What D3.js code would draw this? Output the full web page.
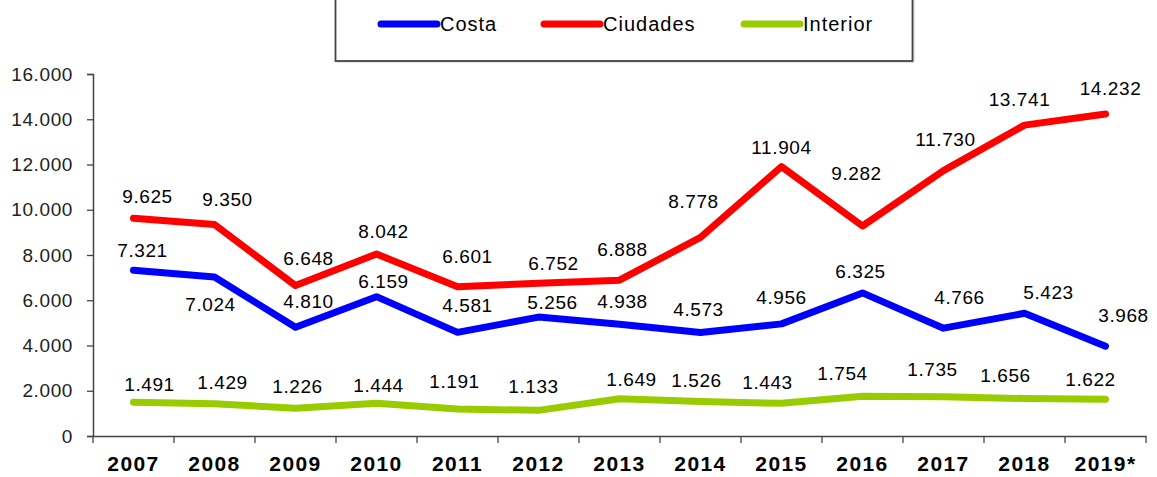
<!DOCTYPE html>
<html>
<head>
<meta charset="utf-8">
<script src="https://cdn.jsdelivr.net/npm/d3@7"></script>
<style>
  html, body { margin: 0; padding: 0; background: #fff; }
  svg { display: block; font-family: "Liberation Sans", Arial, sans-serif; }
</style>
</head>
<body>
<div id="chart"></div>
<script>
// Datos
const years = ["2007", "2008", "2009", "2010", "2011", "2012", "2013", "2014", "2015", "2016", "2017", "2018", "2019*"]
const costa = [7321, 7024, 4810, 6159, 4581, 5256, 4938, 4573, 4956, 6325, 4766, 5423, 3968]
const ciudades = [9625, 9350, 6648, 8042, 6601, 6752, 6888, 8778, 11904, 9282, 11730, 13741, 14232]
const interior = [1491, 1429, 1226, 1444, 1191, 1133, 1649, 1526, 1443, 1754, 1735, 1656, 1622]
const yTicks = [0, 2000, 4000, 6000, 8000, 10000, 12000, 14000, 16000]

// Desplazamiento manual de etiquetas (como en la hoja original)
const nudge = {
    costa: [[9, -20], [-4, 27], [13, -26], [7, -15], [10, -27], [14, -15], [3, -23], [-2, -23], [0, -27], [-2, -22], [16, -31], [24, -21], [18, -31]],
    ciudades: [[14, -22], [13, -25], [13, -27], [7, -23], [10, -30], [15, -20], [3, -31], [-7, -36], [0, -19], [-6, -53], [2, -31], [-5, -26], [5, -26]],
    interior: [[16, -18], [8, -21], [2, -22], [2, -18], [-3, -28], [-5, -24], [12, -19], [-4, -21], [-14, -21], [-20, -23], [-11, -27], [-19, -23], [-15, -20]]
}

const series = [
    { key: "costa", name: "Costa", values: costa, color: "#0000ff" },
    { key: "ciudades", name: "Ciudades", values: ciudades, color: "#ff0000" },
    { key: "interior", name: "Interior", values: interior, color: "#99cc00" }
]

const width = 1157, height = 477
const fmt = d3.formatLocale({ decimal: ",", thousands: ".", grouping: [3], currency: ["", ""] }).format(",d")

const svg = d3.select("#chart").append("svg")
    .attr("width", width)
    .attr("height", height)

const x = d3.scaleBand().domain(years).range([93, 1146]).padding(0)
const y = d3.scaleLinear().domain([0, 16000]).range([436, 74])
const cx = d => x(d) + x.bandwidth() / 2

// Eje Y
svg.append("g")
    .attr("transform", "translate(93,0)")
    .call(d3.axisLeft(y).tickValues(yTicks).tickSize(6).tickPadding(14).tickFormat(fmt))
    .call(g => g.select(".domain").attr("stroke", "#444").attr("stroke-width", 1.5))
    .call(g => g.selectAll(".tick line").attr("stroke", "#444").attr("stroke-width", 1.3))
    .call(g => g.selectAll(".tick text")
        .attr("fill", "#222")
        .style("font-size", "19px")
        .style("letter-spacing", "0.6px")
        .style("font-family", "'Liberation Sans', Arial, sans-serif"))

// Eje X
svg.append("g")
    .attr("transform", "translate(0,436)")
    .call(d3.axisBottom(x).tickSize(0).tickPadding(20))
    .call(g => g.select(".domain").attr("stroke", "#444").attr("stroke-width", 1.5))
    .call(g => g.selectAll(".tick text")
        .attr("fill", "#000")
        .style("font-size", "21px")
        .style("font-weight", "bold")
        .style("letter-spacing", "1.4px")
        .style("font-family", "'Liberation Sans', Arial, sans-serif"))

svg.append("g")
    .selectAll("line")
    .data(years.map(d => x(d)).concat([x.range()[1]]))
    .join("line")
    .attr("x1", d => d).attr("x2", d => d)
    .attr("y1", 436).attr("y2", 443)
    .attr("stroke", "#444")
    .attr("stroke-width", 1.3)

// Líneas
const line = d3.line()
    .x((d, i) => cx(years[i]))
    .y(d => y(d))

svg.append("g")
    .selectAll("path")
    .data(series)
    .join("path")
    .attr("d", s => line(s.values))
    .attr("fill", "none")
    .attr("stroke", s => s.color)
    .attr("stroke-width", 7)
    .attr("stroke-linejoin", "round")
    .attr("stroke-linecap", "round")

// Etiquetas de valores
series.forEach(s => {
    svg.append("g")
        .selectAll("text")
        .data(s.values)
        .join("text")
        .attr("x", (d, i) => cx(years[i]) + nudge[s.key][i][0])
        .attr("y", (d, i) => y(d) + nudge[s.key][i][1])
        .attr("dy", "0.35em")
        .attr("text-anchor", "middle")
        .attr("fill", "#000")
        .style("font-size", "19px")
        .style("letter-spacing", "0.6px")
        .text(d => fmt(d))
})

// Leyenda
const legend = svg.append("g")
legend.append("rect")
    .attr("x", 337).attr("y", -4)
    .attr("width", 577).attr("height", 66)
    .attr("fill", "none")
    .attr("stroke", "#c8c8c8")
    .attr("stroke-width", 1)
legend.append("rect")
    .attr("x", 335.5).attr("y", -5)
    .attr("width", 577).attr("height", 66)
    .attr("fill", "#fff")
    .attr("stroke", "#444")
    .attr("stroke-width", 1.8)

const legendX = [381, 544, 744]
const items = legend.selectAll("g.item")
    .data(series)
    .join("g")
    .attr("class", "item")
    .attr("transform", (d, i) => `translate(${legendX[i]},24)`)
items.append("line")
    .attr("x1", 0).attr("x2", 56)
    .attr("stroke", d => d.color)
    .attr("stroke-width", 7)
    .attr("stroke-linecap", "round")
items.append("text")
    .attr("x", 59)
    .attr("dy", "0.36em")
    .attr("fill", "#000")
    .style("font-size", "20px")
    .style("letter-spacing", "1px")
    .text(d => d.name)
</script>
</body>
</html>
